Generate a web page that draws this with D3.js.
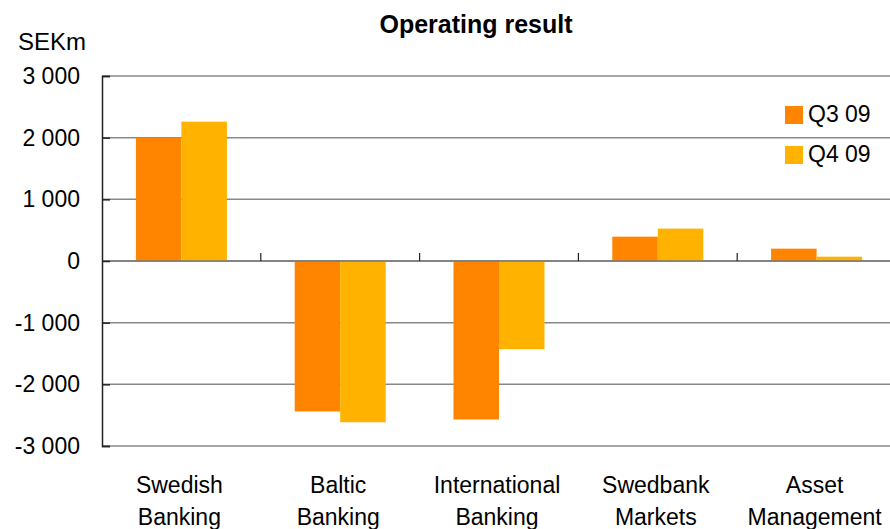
<!DOCTYPE html>
<html>
<head>
<meta charset="utf-8">
<script src="https://cdn.jsdelivr.net/npm/d3@7"></script>
<style>
  body { margin: 0; background: #fff; }
  text { font-family: "Liberation Sans", Arial, sans-serif; fill: #000; }
</style>
</head>
<body>
<div id="chart"></div>
<script>
"use strict";

var categories = [["Swedish", "Banking"], ["Baltic", "Banking"], ["International", "Banking"], ["Swedbank", "Markets"], ["Asset", "Management"]];
var seriesNames = ["Q3 09", "Q4 09"];
var q3Values = [2000, -2440, -2570, 395, 200];
var q4Values = [2260, -2615, -1430, 525, 70];
var yTicks = [3000, 2000, 1000, 0, -1000, -2000, -3000];
var colors = ["#ff8400", "#ffb300"];

var width = 890, height = 529;
var plot = {left: 102, right: 896, top: 76, bottom: 446};

var svg = d3.select("#chart").append("svg")
  .attr("width", width)
  .attr("height", height);

var keys = categories.map(function(c) { return c.join(" "); });

var x = d3.scaleBand()
  .domain(keys)
  .range([plot.left, plot.right])
  .padding(0);

var xSeries = d3.scaleBand()
  .domain(seriesNames)
  .range([0, x.bandwidth()])
  .paddingInner(0)
  .paddingOuter(0.745);

var y = d3.scaleLinear()
  .domain([-3000, 3000])
  .range([plot.bottom, plot.top]);

// "3 000" style, plain hyphen for negatives
function fmt(v) {
  var a = Math.abs(v);
  var s = a >= 1000 ? Math.floor(a / 1000) + " " + String(a % 1000).padStart(3, "0") : String(a);
  return (v < 0 ? "-" : "") + s;
}

// gridlines
svg.append("g")
  .selectAll("line")
  .data(yTicks)
  .enter()
    .append("line")
      .attr("x1", plot.left)
      .attr("x2", width)
      .attr("y1", function(d) { return y(d); })
      .attr("y2", function(d) { return y(d); })
      .attr("stroke", "#888")
      .attr("stroke-width", 1.5);

// bars
var data = [];
keys.forEach(function(k, i) {
  data.push({cat: k, s: seriesNames[0], v: q3Values[i], c: colors[0]});
  data.push({cat: k, s: seriesNames[1], v: q4Values[i], c: colors[1]});
});

svg.append("g")
  .selectAll("rect")
  .data(data)
  .enter()
    .append("rect")
      .attr("x", function(d) { return x(d.cat) + xSeries(d.s); })
      .attr("width", xSeries.bandwidth())
      .attr("y", function(d) { return y(Math.max(0, d.v)); })
      .attr("height", function(d) { return Math.abs(y(d.v) - y(0)); })
      .attr("fill", function(d) { return d.c; });

// zero line on top
svg.append("line")
  .attr("x1", plot.left).attr("x2", width)
  .attr("y1", y(0)).attr("y2", y(0))
  .attr("stroke", "#777")
  .attr("stroke-width", 1.5);

// category ticks on zero line
svg.append("g")
  .selectAll("line")
  .data(keys.slice(1))
  .enter()
    .append("line")
      .attr("x1", function(d) { return x(d); })
      .attr("x2", function(d) { return x(d); })
      .attr("y1", y(0) - 8)
      .attr("y2", y(0))
      .attr("stroke", "#222")
      .attr("stroke-width", 1.2);

// y axis
var yAxis = d3.axisRight(y)
  .tickValues(yTicks)
  .tickSize(8)
  .tickFormat("");

var yg = svg.append("g")
  .attr("transform", "translate(" + plot.left + ",0)")
  .call(yAxis);
yg.select(".domain").attr("stroke", "#222").attr("stroke-width", 1.5);
yg.selectAll(".tick line").attr("stroke", "#222").attr("stroke-width", 1.5);

svg.append("g")
  .selectAll("text")
  .data(yTicks)
  .enter()
    .append("text")
      .attr("x", 80)
      .attr("y", function(d) { return y(d) + 8; })
      .attr("text-anchor", "end")
      .style("font-size", "23px")
      .text(fmt);

// category labels
var labels = svg.append("g")
  .selectAll("text")
  .data(categories)
  .enter()
    .append("text")
      .attr("text-anchor", "middle")
      .style("font-size", "23px");

labels.append("tspan")
  .attr("y", 493)
  .attr("x", function(d) { return x(d.join(" ")) + x.bandwidth() / 2 - 2; })
  .text(function(d) { return d[0]; });
labels.append("tspan")
  .attr("y", 525)
  .attr("x", function(d) { return x(d.join(" ")) + x.bandwidth() / 2 - 2; })
  .text(function(d) { return d[1]; });

// title and unit
svg.append("text")
  .attr("x", 476)
  .attr("y", 33)
  .attr("text-anchor", "middle")
  .style("font-size", "25px")
  .style("font-weight", "bold")
  .text("Operating result");

svg.append("text")
  .attr("x", 18)
  .attr("y", 50)
  .style("font-size", "24px")
  .text("SEKm");

// legend
var legend = svg.append("g")
  .selectAll("g")
  .data(seriesNames)
  .enter()
    .append("g")
      .attr("transform", function(d, i) { return "translate(785," + (106 + i * 40) + ")"; });

legend.append("rect")
  .attr("width", 18)
  .attr("height", 18)
  .attr("fill", function(d, i) { return colors[i]; });

legend.append("text")
  .attr("x", 23)
  .attr("y", 16)
  .style("font-size", "23px")
  .text(function(d) { return d; });
</script>
</body>
</html>
